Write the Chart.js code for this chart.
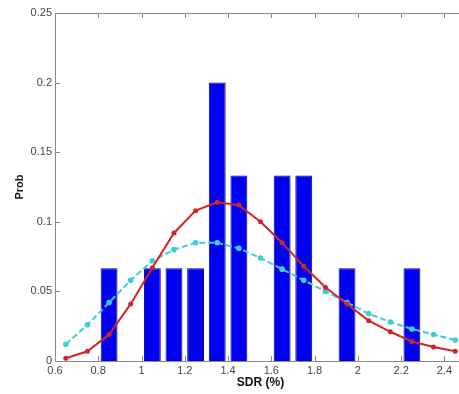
<!DOCTYPE html>
<html><head><meta charset="utf-8">
<script src="https://cdn.jsdelivr.net/npm/chart.js@4.4.1/dist/chart.umd.min.js"></script>
<style>
html,body{margin:0;padding:0;background:#fff;overflow:hidden;}
#wrap{width:459px;height:394px;overflow:hidden;position:relative;}
#box{width:472px;height:394px;position:absolute;left:0;top:0;}
</style></head><body>
<div id="wrap"><div id="box"><canvas id="c"></canvas></div></div>
<script>
// Histogram bins (centres) and probabilities
const binCenters = [0.85, 1.05, 1.15, 1.25, 1.35, 1.45, 1.65, 1.75, 1.95, 2.25];
const binProb    = [0.0667, 0.0667, 0.0667, 0.0667, 0.2, 0.1333, 0.1333, 0.1333, 0.0667, 0.0667];
// Fitted curves
const curveX   = [0.65,0.75,0.85,0.95,1.05,1.15,1.25,1.35,1.45,1.55,1.65,1.75,1.85,1.95,2.05,2.15,2.25,2.35,2.45];
const redFit   = [0.002,0.007,0.019,0.041,0.067,0.092,0.108,0.114,0.112,0.100,0.085,0.068,0.053,0.041,0.029,0.021,0.014,0.010,0.007];
const cyanFit  = [0.012,0.026,0.042,0.058,0.072,0.080,0.085,0.085,0.081,0.074,0.066,0.058,0.050,0.042,0.034,0.028,0.023,0.019,0.015];
// Tick labels
const xTicks = [0.6,0.8,1,1.2,1.4,1.6,1.8,2,2.2,2.4];
const xTickLabels = ['0.6','0.8','1','1.2','1.4','1.6','1.8','2','2.2','2.4'];
const yTicks = [0,0.05,0.1,0.15,0.2,0.25];
const yTickLabels = ['0','0.05','0.1','0.15','0.2','0.25'];

const matlabAxes = {
  id:'matlabAxes',
  afterDatasetsDraw(chart){
    const {ctx, chartArea:a, scales:{x,y}} = chart;
    ctx.save();
    ctx.strokeStyle = '#8a8a8a';
    ctx.lineWidth = 1;
    ctx.beginPath();
    ctx.rect(Math.round(a.left)+0.5, Math.round(a.top)+0.5, Math.round(a.right-a.left), Math.round(a.bottom-a.top));
    const L = 5;
    xTicks.forEach(v=>{
      const px = Math.round(x.getPixelForValue(v))+0.5;
      ctx.moveTo(px, a.bottom); ctx.lineTo(px, a.bottom-L);
      ctx.moveTo(px, a.top); ctx.lineTo(px, a.top+L);
    });
    yTicks.forEach(v=>{
      const py = Math.round(y.getPixelForValue(v))+0.5;
      ctx.moveTo(a.left, py); ctx.lineTo(a.left+L, py);
      ctx.moveTo(a.right, py); ctx.lineTo(a.right-L, py);
    });
    ctx.stroke();
    ctx.restore();
  }
};

new Chart(document.getElementById('c'), {
  type:'bar',
  data:{
    datasets:[
      {type:'line', data: curveX.map((v,i)=>({x:v,y:redFit[i]})), borderColor:'#d42424', backgroundColor:'#d42424',
       borderWidth:2, pointRadius:2.5, pointBorderWidth:0, tension:0, order:1},
      {type:'line', data: curveX.map((v,i)=>({x:v,y:cyanFit[i]})), borderColor:'#3ccfd6', backgroundColor:'#3ccfd6',
       borderWidth:2, borderDash:[6,3], pointRadius:2.8, pointBorderWidth:0, tension:0, order:2},
      {type:'bar', data: binCenters.map((v,i)=>({x:v,y:binProb[i]})), backgroundColor:'#0000f0', borderColor:'#00008c',
       borderWidth:1, barPercentage:0.78, categoryPercentage:1, order:3}
    ]
  },
  options:{
    responsive:true, maintainAspectRatio:false, animation:false,
    layout:{padding:{top:13, right:6, left:0, bottom:0}},
    plugins:{legend:{display:false}, tooltip:{enabled:false}},
    scales:{
      x:{type:'linear', min:0.6, max:2.5, offset:false,
        grid:{display:false, drawTicks:false}, border:{display:false},
        afterBuildTicks(s){ s.ticks = xTicks.map(v=>({value:v})); },
        afterFit(s){ s.height = 33; },
        ticks:{padding:3, color:'#444', font:{family:'Liberation Sans', size:11},
          maxRotation:0, autoSkip:false,
          callback:(v)=>{const i=xTicks.findIndex(t=>Math.abs(t-v)<1e-6); return i>=0?xTickLabels[i]:'';}},
        title:{display:true, text:'SDR (%)', color:'#111', font:{family:'Liberation Sans', size:12, weight:'bold'}, padding:{top:0,bottom:4}}
      },
      y:{type:'linear', min:0, max:0.25,
        grid:{display:false, drawTicks:false}, border:{display:false},
        afterBuildTicks(s){ s.ticks = yTicks.map(v=>({value:v})); },
        afterFit(s){ s.width = 55; },
        ticks:{padding:3, color:'#444', font:{family:'Liberation Sans', size:11},
          callback:(v)=>{const i=yTicks.findIndex(t=>Math.abs(t-v)<1e-6); return i>=0?yTickLabels[i]:'';}},
        title:{display:true, text:'Prob', color:'#111', font:{family:'Liberation Sans', size:11, weight:'bold'}, padding:{top:13,bottom:0}}
      }
    }
  },
  plugins:[matlabAxes]
});
</script>
</body></html>
